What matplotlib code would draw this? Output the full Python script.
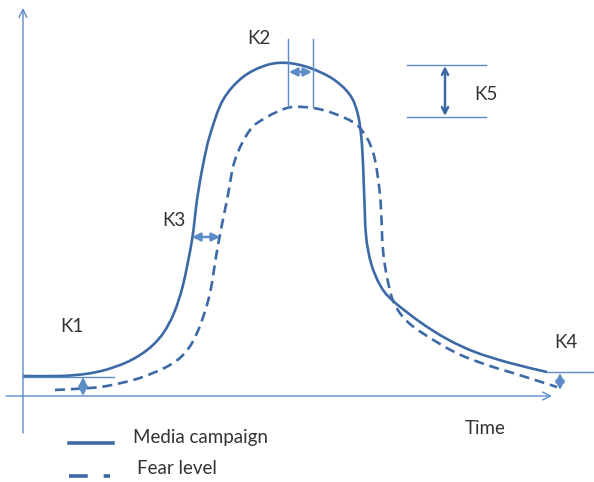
import matplotlib.pyplot as plt
from matplotlib.path import Path
from matplotlib.patches import PathPatch

# curve points (pixel space, y grows downward)
media_x = [23, 60, 85, 105, 125, 140, 153, 164, 174, 183, 192, 197, 203, 210, 223, 243, 267, 288, 310, 333, 350, 358, 362, 364, 366, 371, 380, 392, 420, 447, 475, 510, 547]
media_y = [376, 376, 374, 370, 363, 355, 345, 332, 313, 285, 240, 200, 165, 135, 100, 77, 65, 63, 68, 79, 95, 115, 145, 190, 235, 263, 285, 300, 322, 339, 352, 363, 372]

fear_x = [55, 100, 133, 153, 170, 182, 192, 201, 210, 218, 227, 235, 250, 267, 287, 303, 323, 345, 360, 373, 380, 383, 388, 395, 410, 440, 463, 490, 513, 557]
fear_y = [390, 387, 380, 373, 365, 356, 343, 323, 293, 245, 200, 160, 130, 117, 108, 107, 110, 118, 128, 152, 195, 250, 282, 305, 324, 344, 356, 366, 373, 387]

labels = ['K1', 'K2', 'K3', 'K4', 'K5']
label_pos = [(72, 327), (259, 39), (174, 220), (566, 343), (486, 94)]

curve_c = '#3d6aa6'
axis_c = '#5b8bc9'
text_c = '#333333'

plt.rcParams['font.family'] = ['Lato', 'DejaVu Sans']

fig = plt.figure(figsize=(5.94, 4.82), dpi=100)
ax = fig.add_axes([0, 0, 1, 1])
ax.set_xlim(0, 594)
ax.set_ylim(482, 0)
ax.axis('off')


def smooth_path(xs, ys):
    # catmull-rom through the points, handed to matplotlib as cubic beziers
    pts = list(zip(xs, ys))
    verts = [pts[0]]
    codes = [Path.MOVETO]
    for i in range(len(pts) - 1):
        p0 = pts[i - 1] if i > 0 else pts[i]
        p1 = pts[i]
        p2 = pts[i + 1]
        p3 = pts[i + 2] if i + 2 < len(pts) else pts[i + 1]
        c1 = (p1[0] + (p2[0] - p0[0]) / 6, p1[1] + (p2[1] - p0[1]) / 6)
        c2 = (p2[0] - (p3[0] - p1[0]) / 6, p2[1] - (p3[1] - p1[1]) / 6)
        verts += [c1, c2, p2]
        codes += [Path.CURVE4] * 3
    return Path(verts, codes)


def arrow(p0, p1, style, color=axis_c, lw=1.0, scale=10):
    ax.annotate('', xy=p1, xytext=p0,
                arrowprops=dict(arrowstyle=style, color=color, lw=lw,
                                shrinkA=0, shrinkB=0, mutation_scale=scale))


# axes
arrow((23, 433), (23, 8), '->', lw=1.0, scale=14)
arrow((6, 396), (552, 396), '->', lw=1.0, scale=14)

# curves
ax.add_patch(PathPatch(smooth_path(media_x, media_y), fill=False,
                       edgecolor=curve_c, lw=1.9))
ax.add_patch(PathPatch(smooth_path(fear_x, fear_y), fill=False,
                       edgecolor=curve_c, lw=1.9, linestyle=(0, (3.8, 2.2))))

# K1
ax.plot([23, 114], [377, 377], color=axis_c, lw=1.0)
arrow((83, 377), (83, 396), '<|-|>', color=axis_c, lw=1.6, scale=13)
# K2
ax.plot([288, 288], [39, 108], color=axis_c, lw=1.0)
ax.plot([313, 313], [39, 107], color=axis_c, lw=1.0)
arrow((289, 72), (312, 72), '<|-|>', color=axis_c, lw=1.8, scale=12)
# K3
arrow((192, 237), (220, 237), '<|-|>', color=axis_c, lw=1.8, scale=12)
# K4
ax.plot([547, 594], [372, 372], color=axis_c, lw=1.0)
arrow((560, 373), (560, 390), '<|-|>', color=axis_c, lw=1.6, scale=13)
# K5
ax.plot([407, 486], [65, 65], color=axis_c, lw=1.0)
ax.plot([407, 486], [117, 117], color=axis_c, lw=1.0)
arrow((445, 66), (445, 116), '<->', color=curve_c, lw=1.8, scale=11)

for lab, (x, y) in zip(labels, label_pos):
    ax.text(x, y, lab, color=text_c, fontsize=13.5, ha='center', va='center')

ax.text(485, 428, 'Time', color=text_c, fontsize=13.5, ha='center', va='center')

# legend
ax.plot([69, 113], [443, 443], color=curve_c, lw=2.6)
ax.plot([69, 110], [476, 476], color=curve_c, lw=2.6, dashes=(5.2, 4.4))
ax.text(133, 438, 'Media campaign', color=text_c, fontsize=13.5, ha='left', va='center')
ax.text(137, 468, 'Fear level', color=text_c, fontsize=13.5, ha='left', va='center')

fig.savefig('out.png', dpi=100)
